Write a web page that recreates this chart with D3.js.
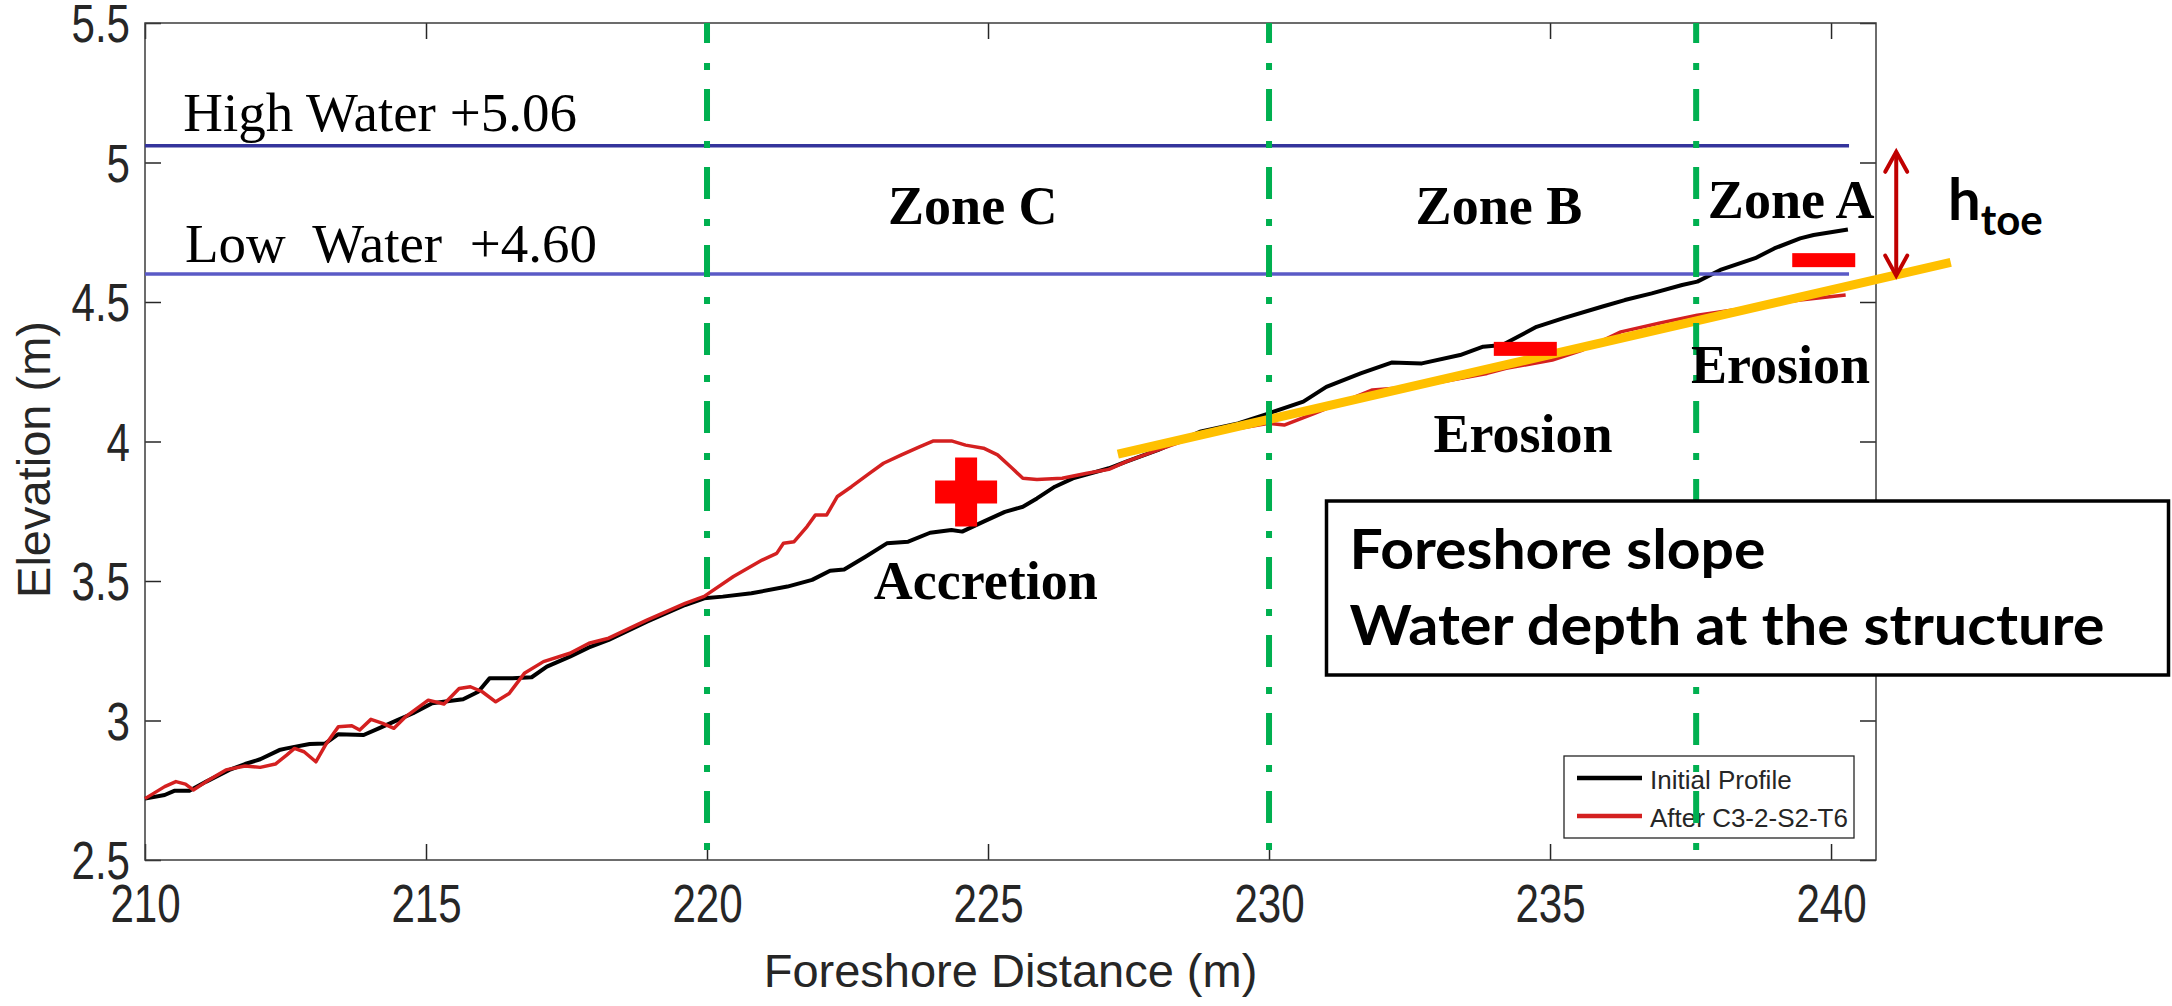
<!DOCTYPE html>
<html lang="en">
<head>
<meta charset="utf-8">
<title>Foreshore profile - Zones A, B, C</title>
<script src="https://cdn.jsdelivr.net/npm/d3@7/dist/d3.min.js"></script>
<style>
  body { margin: 0; background: #fff; }
  .axis text { font-family: Arial, "Liberation Sans", sans-serif; fill: #262626; }
  .axis line { stroke: #262626; stroke-width: 1.5; }
  .serif { font-family: "Liberation Serif", "DejaVu Serif", serif; fill: #000; }
  .sans { font-family: Lato, "Open Sans", "Noto Sans", sans-serif; font-weight: bold; fill: #000; }
</style>
</head>
<body>
<script>
// ---- data ----
const xTicks = [210, 215, 220, 225, 230, 235, 240];
const yTicks = [2.5, 3, 3.5, 4, 4.5, 5, 5.5];

const initialProfile = [
  [210.0, 2.72], [210.35, 2.733], [210.52, 2.748], [210.79, 2.748], [211.09, 2.781],
  [211.5, 2.823], [211.78, 2.844], [212.05, 2.861], [212.39, 2.894], [212.52, 2.9],
  [212.93, 2.916], [213.21, 2.918], [213.44, 2.951], [213.89, 2.948], [214.16, 2.972],
  [214.5, 3.002], [214.77, 3.026], [215.11, 3.062], [215.45, 3.071], [215.66, 3.076],
  [215.93, 3.103], [216.13, 3.151], [216.54, 3.151], [216.88, 3.155], [217.15, 3.193],
  [217.56, 3.229], [217.9, 3.262], [218.25, 3.289], [218.93, 3.354], [219.61, 3.414],
  [219.95, 3.438], [220.28, 3.444], [220.79, 3.456], [221.43, 3.48], [221.87, 3.504],
  [222.19, 3.537], [222.44, 3.541], [222.82, 3.587], [223.2, 3.635], [223.58, 3.641],
  [223.97, 3.673], [224.35, 3.683], [224.54, 3.677], [224.92, 3.713], [225.3, 3.748],
  [225.62, 3.766], [225.87, 3.796], [226.19, 3.838], [226.51, 3.868], [227.15, 3.904],
  [227.46, 3.928], [228.03, 3.97], [228.77, 4.035], [229.45, 4.065], [230.0, 4.101],
  [230.61, 4.143], [231.02, 4.196], [231.63, 4.244], [232.18, 4.283], [232.72, 4.28],
  [233.4, 4.31], [233.81, 4.34], [234.15, 4.346], [234.76, 4.411], [235.24, 4.442],
  [235.92, 4.483], [236.33, 4.507], [236.81, 4.531], [237.35, 4.561], [237.62, 4.573],
  [238.03, 4.615], [238.65, 4.657], [238.99, 4.692], [239.45, 4.728], [239.69, 4.74],
  [240.3, 4.76]
];

const afterProfile = [
  [210.0, 2.72], [210.35, 2.763], [210.55, 2.781], [210.72, 2.772], [210.86, 2.751],
  [211.09, 2.781], [211.44, 2.823], [211.78, 2.837], [212.05, 2.832], [212.32, 2.844],
  [212.52, 2.876], [212.66, 2.9], [212.83, 2.888], [213.04, 2.852], [213.21, 2.912],
  [213.44, 2.978], [213.68, 2.981], [213.82, 2.966], [214.02, 3.004], [214.23, 2.99],
  [214.43, 2.972], [214.64, 3.014], [215.04, 3.073], [215.32, 3.059], [215.59, 3.115],
  [215.79, 3.121], [216.0, 3.103], [216.24, 3.067], [216.48, 3.097], [216.75, 3.169],
  [217.09, 3.211], [217.56, 3.241], [217.9, 3.277], [218.25, 3.295], [218.93, 3.36],
  [219.61, 3.42], [219.95, 3.445], [220.47, 3.516], [220.98, 3.575], [221.24, 3.599],
  [221.36, 3.635], [221.55, 3.641], [221.78, 3.695], [221.93, 3.737], [222.13, 3.737],
  [222.32, 3.803], [222.57, 3.838], [222.89, 3.886], [223.14, 3.922], [223.46, 3.952],
  [223.78, 3.981], [224.03, 4.002], [224.35, 4.002], [224.6, 3.987], [224.92, 3.976],
  [225.17, 3.952], [225.43, 3.904], [225.62, 3.868], [225.87, 3.864], [226.32, 3.868],
  [226.76, 3.886], [227.15, 3.9], [227.46, 3.928], [228.03, 3.97], [228.77, 4.023],
  [230.0, 4.065], [230.27, 4.059], [230.81, 4.101], [231.84, 4.185], [232.59, 4.196],
  [233.88, 4.244], [234.22, 4.262], [235.04, 4.292], [235.58, 4.328], [236.26, 4.393],
  [236.94, 4.424], [237.62, 4.453], [238.65, 4.483], [239.45, 4.507], [240.26, 4.525]
];

const legendLabels = ["Initial Profile", "After C3-2-S2-T6"];
const waterLevels = [5.06, 4.60];
const waterLabels = ["High Water +5.06", "Low  Water  +4.60"];
const zoneBounds = [220, 230, 237.6];
const slopeLine = [[227.31, 3.955], [242.13, 4.642]];
const htoeArrow = [241.16, 5.042, 4.591];

// annotation anchors in data units
const zoneLabels = [
  {text: "Zone C", x: 224.73, y: 4.78},
  {text: "Zone B", x: 234.09, y: 4.78},
  {text: "Zone A", x: 239.29, y: 4.80}
];
const changeLabels = [
  {text: "Accretion", x: 224.96, y: 3.436},
  {text: "Erosion", x: 234.52, y: 3.964},
  {text: "Erosion", x: 239.10, y: 4.211}
];
const plusMarks = [[224.61, 3.819]];
const minusMarks = [[234.56, 4.332], [239.87, 4.65]];

// ---- layout ----
const w = 2172;
const h = 1006;
const margin = {top: 23, right: 296, bottom: 146, left: 145};
const innerWidth = w - margin.left - margin.right;
const innerHeight = h - margin.top - margin.bottom;

const svg = d3.select("body").append("svg")
  .attr("width", w)
  .attr("height", h);

const xScale = d3.scaleLinear()
  .domain([210, 240.8])
  .range([margin.left, margin.left + innerWidth]);

const yScale = d3.scaleLinear()
  .domain([2.5, 5.5])
  .range([margin.top + innerHeight, margin.top]);

// tick labels in the figure are horizontally squeezed
const squeeze = 0.78;

// axes (matlab style: ticks inside, on all four sides)
const gx = svg.append("g").attr("class", "axis")
  .attr("transform", "translate(0," + (margin.top + innerHeight) + ")")
  .call(d3.axisBottom(xScale).tickValues(xTicks).tickSizeInner(-16).tickSizeOuter(0));
gx.select(".domain").remove();
gx.selectAll("text")
  .attr("y", 62).attr("dy", null)
  .attr("transform", "scale(" + squeeze + ",1)")
  .style("font-size", "54px");

const gy = svg.append("g").attr("class", "axis")
  .attr("transform", "translate(" + margin.left + ",0)")
  .call(d3.axisLeft(yScale).tickValues(yTicks).tickFormat(d3.format("~g")).tickSizeInner(-16).tickSizeOuter(0));
gy.select(".domain").remove();
gy.selectAll("text")
  .attr("x", -15 / squeeze).attr("dy", "0.35em")
  .attr("transform", "scale(" + squeeze + ",1)")
  .style("font-size", "54px");

const gt = svg.append("g").attr("class", "axis")
  .attr("transform", "translate(0," + margin.top + ")")
  .call(d3.axisTop(xScale).tickValues(xTicks).tickFormat("").tickSizeInner(-16).tickSizeOuter(0));
gt.select(".domain").remove();

const gr = svg.append("g").attr("class", "axis")
  .attr("transform", "translate(" + (margin.left + innerWidth) + ",0)")
  .call(d3.axisRight(yScale).tickValues(yTicks).tickFormat("").tickSizeInner(-16).tickSizeOuter(0));
gr.select(".domain").remove();

svg.append("rect")
  .attr("x", margin.left).attr("y", margin.top)
  .attr("width", innerWidth).attr("height", innerHeight)
  .attr("fill", "none").attr("stroke", "#3c3c3c").attr("stroke-width", 1.5);

svg.append("text")
  .attr("x", margin.left + innerWidth / 2)
  .attr("y", 987)
  .attr("text-anchor", "middle")
  .style("font-family", "Arial, 'Liberation Sans', sans-serif")
  .style("font-size", "47px").style("fill", "#262626")
  .text("Foreshore Distance (m)");

svg.append("text")
  .attr("transform", "translate(50," + (margin.top + innerHeight / 2 + 18) + ") rotate(-90)")
  .attr("text-anchor", "middle")
  .style("font-family", "Arial, 'Liberation Sans', sans-serif")
  .style("font-size", "47px").style("fill", "#262626")
  .text("Elevation (m)");

// legend
const legendColors = ["#000000", "#d42020"];
const lg = svg.append("g");
lg.append("rect")
  .attr("x", 1564).attr("y", 756).attr("width", 290).attr("height", 82)
  .attr("fill", "#fff").attr("stroke", "#262626").attr("stroke-width", 1.3);
legendLabels.forEach(function(label, i) {
  const yy = 778 + i * 38;
  lg.append("line")
    .attr("x1", 1577).attr("x2", 1642).attr("y1", yy).attr("y2", yy)
    .attr("stroke", legendColors[i]).attr("stroke-width", 4.5);
  lg.append("text")
    .attr("x", 1650).attr("y", yy + 11)
    .style("font-family", "Arial, 'Liberation Sans', sans-serif")
    .style("font-size", "26px").style("fill", "#262626")
    .text(label);
});

// profiles
const line = d3.line().x(d => xScale(d[0])).y(d => yScale(d[1]));

svg.append("path").datum(initialProfile)
  .attr("d", line).attr("fill", "none")
  .attr("stroke", "#000").attr("stroke-width", 4).attr("stroke-linejoin", "round");

svg.append("path").datum(afterProfile)
  .attr("d", line).attr("fill", "none")
  .attr("stroke", "#d42020").attr("stroke-width", 3.5).attr("stroke-linejoin", "round");

// water levels
const waterColors = ["#34349c", "#5a5ac6"];
waterLevels.forEach(function(v, i) {
  svg.append("line")
    .attr("x1", xScale(210)).attr("x2", xScale(240.32))
    .attr("y1", yScale(v)).attr("y2", yScale(v))
    .attr("stroke", waterColors[i]).attr("stroke-width", 3.5);
});
svg.append("text").attr("class", "serif")
  .attr("x", xScale(210.68)).attr("y", yScale(5.113))
  .style("font-size", "55px")
  .text(waterLabels[0]);
svg.append("text").attr("class", "serif")
  .attr("x", xScale(210.71)).attr("y", yScale(4.643))
  .style("font-size", "55px").style("white-space", "pre")
  .text(waterLabels[1]);

// foreshore slope line
svg.append("line")
  .attr("x1", xScale(slopeLine[0][0])).attr("y1", yScale(slopeLine[0][1]))
  .attr("x2", xScale(slopeLine[1][0])).attr("y2", yScale(slopeLine[1][1]))
  .attr("stroke", "#ffc000").attr("stroke-width", 9);

// zone boundaries
svg.selectAll(".zone-line")
  .data(zoneBounds)
  .enter()
  .append("line")
  .attr("class", "zone-line")
  .attr("x1", d => xScale(d)).attr("x2", d => xScale(d))
  .attr("y1", yScale(5.5)).attr("y2", yScale(2.5))
  .attr("stroke", "#00b050").attr("stroke-width", 6)
  .attr("stroke-dasharray", "32,20,7,19")
  .attr("stroke-dashoffset", 12);

// text box
svg.append("rect")
  .attr("x", 1326.5).attr("y", 501).attr("width", 842).attr("height", 174)
  .attr("fill", "#fff").attr("stroke", "#000").attr("stroke-width", 3.5);
svg.append("text").attr("class", "sans")
  .attr("x", 1349.5).attr("y", 569)
  .attr("textLength", 416).attr("lengthAdjust", "spacingAndGlyphs")
  .style("font-size", "56px")
  .text("Foreshore slope");
svg.append("text").attr("class", "sans")
  .attr("x", 1349.5).attr("y", 645)
  .attr("textLength", 755).attr("lengthAdjust", "spacingAndGlyphs")
  .style("font-size", "56px")
  .text("Water depth at the structure");

// zone and change labels
svg.selectAll(".zone-label")
  .data(zoneLabels.concat(changeLabels))
  .enter()
  .append("text")
  .attr("class", "serif zone-label")
  .attr("x", d => xScale(d.x)).attr("y", d => yScale(d.y))
  .attr("text-anchor", "middle")
  .style("font-size", "54px").style("font-weight", "bold")
  .text(d => d.text);

// plus / minus markers
plusMarks.forEach(function(p) {
  const cx = xScale(p[0]), cy = yScale(p[1]);
  svg.append("rect").attr("x", cx - 11).attr("y", cy - 34.5).attr("width", 22).attr("height", 69).attr("fill", "#ff0000");
  svg.append("rect").attr("x", cx - 31).attr("y", cy - 11.5).attr("width", 62).attr("height", 23).attr("fill", "#ff0000");
});
minusMarks.forEach(function(p) {
  const cx = xScale(p[0]), cy = yScale(p[1]);
  svg.append("rect").attr("x", cx - 31.5).attr("y", cy - 7).attr("width", 63).attr("height", 14).attr("fill", "#ff0000");
});

// h_toe arrow
const ax = xScale(htoeArrow[0]);
const aTop = yScale(htoeArrow[1]);
const aBot = yScale(htoeArrow[2]);
const arrow = svg.append("g")
  .attr("stroke", "#c00000").attr("stroke-width", 4).attr("fill", "none")
  .attr("stroke-linecap", "round");
arrow.append("line").attr("x1", ax).attr("x2", ax).attr("y1", aTop + 2).attr("y2", aBot - 2);
arrow.append("polyline").attr("points", [[ax - 11, aTop + 21], [ax, aTop + 1], [ax + 11, aTop + 21]].join(" "));
arrow.append("polyline").attr("points", [[ax - 11, aBot - 21], [ax, aBot - 1], [ax + 11, aBot - 21]].join(" "));

const ht = svg.append("text").attr("class", "sans")
  .attr("x", 1948).attr("y", 220);
ht.append("tspan").style("font-size", "58px").text("h");
ht.append("tspan").attr("dy", 15).style("font-size", "42px").text("toe");
</script>
</body>
</html>
